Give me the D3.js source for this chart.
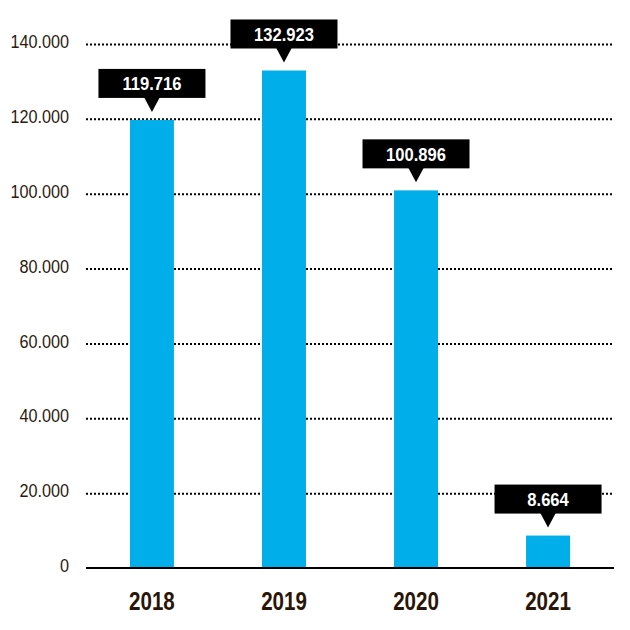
<!DOCTYPE html>
<html>
<head>
<meta charset="utf-8">
<script src="https://cdn.jsdelivr.net/npm/d3@7"></script>
<style>
  body { margin: 0; background: #fff; }
  svg text { font-family: "Liberation Sans", Arial, sans-serif; }
</style>
</head>
<body>
<div id="vis"><svg></svg></div>
<script>
// chart values
const years = ["2018", "2019", "2020", "2021"];
const values = [119716, 132923, 100896, 8664];
const yTicks = [0, 20000, 40000, 60000, 80000, 100000, 120000, 140000];

const width = 630, height = 630;
const margin = {top: 44, right: 16, bottom: 62, left: 86};

const svg = d3.select("#vis").select("svg")
  .attr("width", width)
  .attr("height", height);

// german style thousands separator
const fmt = d3.formatLocale({decimal: ",", thousands: ".", grouping: [3], currency: ["", "€"]}).format(",");

// squeeze text horizontally to fake a condensed face
function condense(sel, ratio) {
  sel.each(function() {
    const len = this.getComputedTextLength();
    d3.select(this).attr("textLength", len * ratio).attr("lengthAdjust", "spacingAndGlyphs");
  });
}

const x = d3.scaleBand()
  .domain(years)
  .range([margin.left, width - margin.right])
  .paddingInner(0.667)
  .paddingOuter(0.333);

const y = d3.scaleLinear()
  .domain([0, 140000])
  .range([height - margin.bottom, margin.top]);

// dotted gridlines + tick labels
const yAxis = svg.append("g")
  .attr("transform", `translate(${margin.left},0)`)
  .call(d3.axisLeft(y)
    .tickValues(yTicks)
    .tickSize(-(width - margin.left - margin.right))
    .tickPadding(17)
    .tickFormat(d => fmt(d)));
yAxis.select(".domain").remove();
yAxis.selectAll(".tick line")
  .attr("stroke", "#000")
  .attr("stroke-width", 2)
  .attr("stroke-dasharray", "2,2")
  .filter(d => d === 0).remove();
yAxis.selectAll(".tick text")
  .attr("fill", "#2b1a0e")
  .attr("font-size", 18)
  .attr("dy", "0.2em")
  .call(condense, 0.9);

// bars
svg.append("g")
  .selectAll("rect")
  .data(years)
  .join("rect")
  .attr("x", d => x(d))
  .attr("width", x.bandwidth())
  .attr("y", (d, i) => y(values[i]))
  .attr("height", (d, i) => y(0) - y(values[i]))
  .attr("fill", "#00AEEA");

// baseline
svg.append("line")
  .attr("x1", margin.left).attr("x2", width - margin.right)
  .attr("y1", y(0)).attr("y2", y(0))
  .attr("stroke", "#000").attr("stroke-width", 2);

// year labels
svg.append("g")
  .selectAll("text")
  .data(years)
  .join("text")
  .attr("x", d => x(d) + x.bandwidth() / 2)
  .attr("y", y(0) + 42)
  .attr("text-anchor", "middle")
  .attr("font-size", 26)
  .attr("font-weight", "bold")
  .attr("fill", "#2a1608")
  .text(d => d)
  .call(condense, 0.79);

// value callouts
const boxW = 107, boxH = 29, triH = 14, triW = 16, gap = 8;
const callout = svg.append("g")
  .selectAll("g")
  .data(years)
  .join("g")
  .attr("transform", (d, i) => `translate(${x(d) + x.bandwidth() / 2},${y(values[i]) - gap})`);

callout.append("path")
  .attr("d", `M0,0 L${-triW / 2},${-triH - 1} L${triW / 2},${-triH - 1} Z`)
  .attr("fill", "#000");
callout.append("rect")
  .attr("x", -boxW / 2)
  .attr("y", -triH - boxH)
  .attr("width", boxW)
  .attr("height", boxH)
  .attr("fill", "#000");
callout.append("text")
  .attr("x", 0)
  .attr("y", -triH - boxH / 2 + 7)
  .attr("text-anchor", "middle")
  .attr("font-size", 18)
  .attr("font-weight", "bold")
  .attr("fill", "#fff")
  .text((d, i) => fmt(values[i]))
  .call(condense, 0.92);
</script>
</body>
</html>
